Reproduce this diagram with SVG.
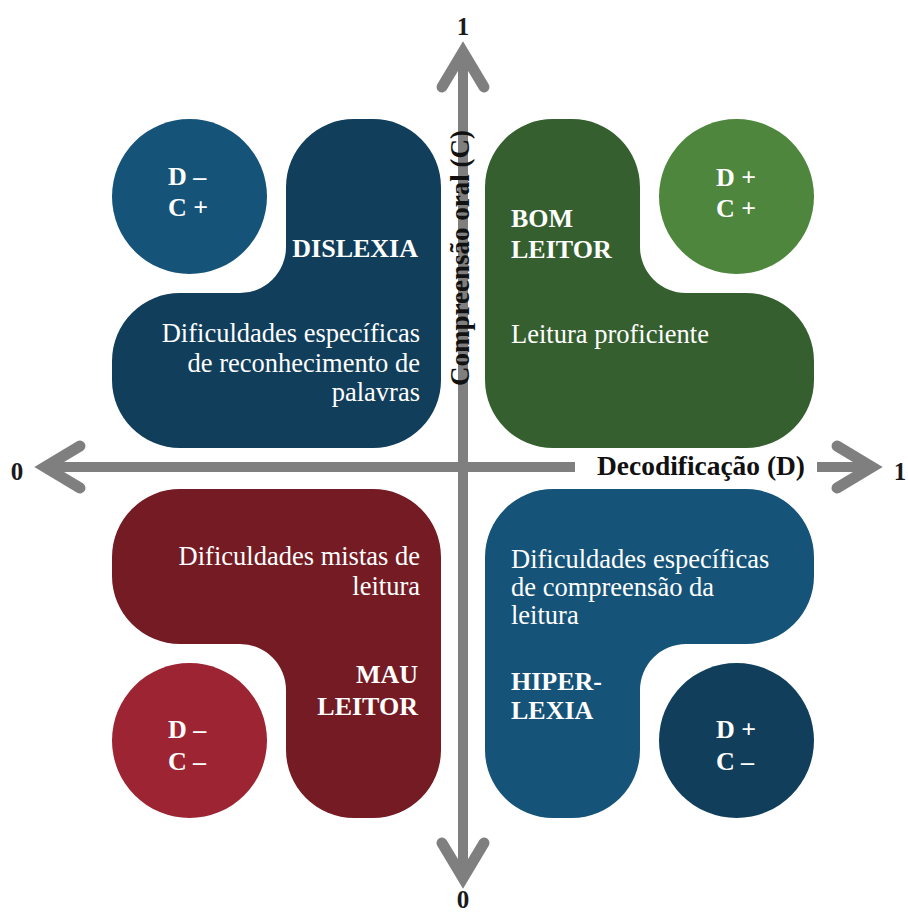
<svg xmlns="http://www.w3.org/2000/svg" width="908" height="916" viewBox="0 0 908 916">
  <style>
    .axis { stroke: #7f7f7f; stroke-width: 10; fill: none; }
    .head { stroke: #7f7f7f; stroke-width: 11; fill: none; stroke-linecap: round; stroke-linejoin: miter; stroke-miterlimit: 10; }
    .num { font-family: "Liberation Serif", "Times New Roman", serif; font-weight: bold; font-size: 25px; fill: #1a1a1a; text-anchor: middle; }
    .axlabel { font-family: "Liberation Serif", "Times New Roman", serif; font-weight: bold; font-size: 27px; fill: #111; }
    .title { font-family: "Liberation Serif", "Times New Roman", serif; font-weight: bold; font-size: 26px; fill: #fff; }
    .body { font-family: "Liberation Serif", "Times New Roman", serif; font-size: 26.5px; fill: #fff; }
    .badge { font-family: "Liberation Serif", "Times New Roman", serif; font-weight: bold; font-size: 26px; fill: #fff; }
    .end { text-anchor: end; }
  </style>
  <defs>
    <!-- L-shaped block: column on the right, bar along the bottom, concave fillet in the notch -->
    <path id="blob" d="M 286,187 A 68 68 0 0 1 354,119 H 373 A 68 68 0 0 1 441,187 V 380 A 68 68 0 0 1 373,448 H 180 A 68 68 0 0 1 112,380 V 361 A 68 68 0 0 1 180,293 H 240 A 46 46 0 0 0 286,247 Z"/>
  </defs>

  <rect width="908" height="916" fill="#fff"/>

  <!-- Top-left quadrant -->
  <g id="dislexia">
    <use href="#blob" fill="#103e5b"/>
    <circle cx="189.5" cy="196.5" r="77.5" fill="#165379"/>
    <text class="badge" x="168" y="185">D –</text>
    <text class="badge" x="168" y="216">C +</text>
    <text class="title end" x="418" y="257">DISLEXIA</text>
    <text class="body end" x="420" y="342">Dificuldades específicas</text>
    <text class="body end" x="420" y="372">de reconhecimento de</text>
    <text class="body end" x="420" y="401">palavras</text>
  </g>

  <!-- Top-right quadrant -->
  <g id="bom-leitor">
    <use href="#blob" fill="#365f30" transform="matrix(-1 0 0 1 926 0)"/>
    <circle cx="736.5" cy="196.5" r="77.5" fill="#4d863c"/>
    <text class="badge" x="716" y="186">D +</text>
    <text class="badge" x="716" y="217">C +</text>
    <text class="title" x="511" y="227">BOM</text>
    <text class="title" x="511" y="258">LEITOR</text>
    <text class="body" x="511" y="343">Leitura proficiente</text>
  </g>

  <!-- Bottom-left quadrant -->
  <g id="mau-leitor">
    <use href="#blob" fill="#751b24" transform="matrix(1 0 0 -1 0 937)"/>
    <circle cx="189.5" cy="740.5" r="77.5" fill="#9d2432"/>
    <text class="badge" x="168" y="738">D –</text>
    <text class="badge" x="168" y="770">C<tspan x="193">–</tspan></text>
    <text class="body end" x="420" y="565">Dificuldades mistas de</text>
    <text class="body end" x="420" y="595">leitura</text>
    <text class="title end" x="418" y="683">MAU</text>
    <text class="title end" x="418" y="715">LEITOR</text>
  </g>

  <!-- Bottom-right quadrant -->
  <g id="hiperlexia">
    <use href="#blob" fill="#165379" transform="matrix(-1 0 0 -1 926 937)"/>
    <circle cx="736.5" cy="740.5" r="77.5" fill="#103e5b"/>
    <text class="badge" x="716" y="738">D +</text>
    <text class="badge" x="716" y="770">C<tspan x="741">–</tspan></text>
    <text class="body" x="511" y="568">Dificuldades específicas</text>
    <text class="body" x="511" y="596">de compreensão da</text>
    <text class="body" x="511" y="624">leitura</text>
    <text class="title" x="511" y="690">HIPER-</text>
    <text class="title" x="511" y="719">LEXIA</text>
  </g>

  <!-- Axes -->
  <g id="axes">
    <line class="axis" x1="463" y1="52" x2="463" y2="878"/>
    <line class="axis" x1="45" y1="467" x2="872" y2="467"/>
    <polyline class="head" points="442,87 463,52 484,87"/>
    <polyline class="head" points="442,843 463,878 484,843"/>
    <polyline class="head" points="80,446 45,467 80,488"/>
    <polyline class="head" points="837,446 872,467 837,488"/>
    <rect x="575" y="456" width="242" height="22" fill="#fff"/>
    <text class="axlabel" x="597" y="475" font-size="28" textLength="208" lengthAdjust="spacingAndGlyphs">Decodificação (D)</text>
    <text class="axlabel" text-anchor="middle" transform="translate(469 258) rotate(-90)">Compreensão oral (C)</text>
    <text class="num" x="463" y="35">1</text>
    <text class="num" x="463" y="908">0</text>
    <text class="num" x="17" y="480">0</text>
    <text class="num" x="900" y="480">1</text>
  </g>
</svg>
